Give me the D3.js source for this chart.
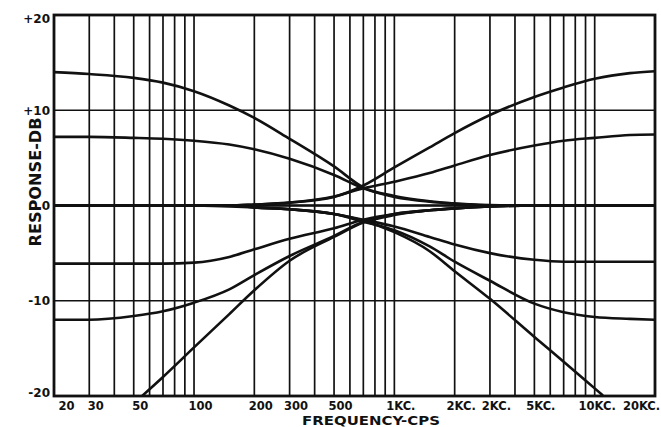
<!DOCTYPE html>
<html><head><meta charset="utf-8">
<script src="https://cdn.jsdelivr.net/npm/d3@7"></script>
<style>body{margin:0;background:#fff}svg{display:block}</style>
</head><body>
<svg id="chart" width="661" height="427"></svg>
<script>
// ---------- data ----------
const freqs = [20,30,50,70,100,150,200,300,500,700,1000,1500,2000,3000,5000,7000,10000,15000,20000];
const flatResponse  = [0,0,0,0,0,0,0,0,0,0,0,0,0,0,0,0,0,0,0];
const bassBoostMax  = [14.0,13.8,13.4,12.9,12.0,10.5,9.2,7.0,4.1,1.9,1.0,0.45,0.2,0.05,0,0,0,0,0];
const bassBoostHalf = [7.2,7.2,7.1,7.0,6.8,6.4,5.9,4.9,3.2,1.8,0.9,0.4,0.2,0,0,0,0,0,0];
const bassCutHalf   = [-6.1,-6.1,-6.1,-6.1,-6.0,-5.4,-4.6,-3.5,-2.4,-1.5,-0.9,-0.5,-0.3,-0.1,0,0,0,0,0];
const bassCutMax    = [-12.0,-12.0,-11.6,-11.1,-10.2,-8.8,-7.3,-5.3,-3.2,-1.7,-0.9,-0.5,-0.3,-0.1,0,0,0,0,0];
const trebleBoostMax  = [0,0,0,0,0,0,0.1,0.3,0.9,2.1,4.0,6.1,7.6,9.5,11.4,12.4,13.3,13.9,14.1];
const trebleBoostHalf = [0,0,0,0,0,0,0.1,0.3,0.95,1.8,2.5,3.4,4.2,5.3,6.3,6.8,7.1,7.4,7.45];
const trebleCutHalf   = [0,0,0,0,0,0,-0.2,-0.4,-0.9,-1.5,-2.2,-3.3,-4.1,-5.0,-5.7,-5.9,-5.9,-5.9,-5.9];
const trebleCutMax    = [0,0,0,0,0,0,-0.2,-0.4,-0.9,-1.7,-2.6,-4.3,-5.9,-7.9,-10.3,-11.2,-11.7,-11.9,-12.0];
const bassRolloffFreqs   = [55,70,100,150,200,300,500,700,1000,1500,2000,3000,5000];
const bassRolloff        = [-20,-18.0,-14.9,-11.4,-8.9,-5.8,-3.3,-1.8,-1.0,-0.5,-0.3,-0.1,0];
const trebleRolloffFreqs = [100,200,300,500,700,1000,1500,2000,3000,5000,7000,10000,11000];
const trebleRolloff      = [0,-0.2,-0.4,-0.9,-1.6,-2.8,-4.8,-6.9,-9.8,-13.8,-16.4,-19.2,-19.95];

const gridFreqs = [30,40,50,60,70,80,90,100,200,300,400,500,600,700,800,900,1000,2000,3000,4000,5000,6000,7000,8000,9000,10000];
const gridDb = [-10,0,10];
const xTickFreqs  = [20,30,50,100,200,300,500,1000,2000,3000,5000,10000,20000];
const xTickLabels = ["20","30","50","100","200","300","500","1KC.","2KC.","2KC.","5KC.","10KC.","20KC."];
const yTicks      = [20,10,0,-10,-20];
const yTickLabels = ["+20","+10","0","-10","-20"];

// ---------- drawing ----------
const svg = d3.select("#chart");
const L = 54, R = 655, T = 15, B = 396;
const x = d3.scaleLog().domain([20,20000]).range([L,R]);
const y = d3.scaleLinear().domain([-20,20]).range([B,T]);
const ink = "#111";
const font = "'DejaVu Sans', sans-serif";

svg.append("rect").attr("width",661).attr("height",427).attr("fill","#fff");
svg.append("clipPath").attr("id","plot").append("rect")
  .attr("x",L).attr("y",T).attr("width",R-L).attr("height",B-T);

// grid
svg.append("g").selectAll("line").data(gridFreqs).join("line")
  .attr("x1",d=>x(d)).attr("x2",d=>x(d)).attr("y1",T).attr("y2",B)
  .attr("stroke",ink).attr("stroke-width",1.7);
svg.append("g").selectAll("line").data(gridDb).join("line")
  .attr("x1",L).attr("x2",R).attr("y1",d=>y(d)).attr("y2",d=>y(d))
  .attr("stroke",ink).attr("stroke-width",1.6);

// curves
const series = [
  [freqs, flatResponse],[freqs, bassBoostMax],[freqs, bassBoostHalf],[freqs, bassCutHalf],[freqs, bassCutMax],
  [freqs, trebleBoostMax],[freqs, trebleBoostHalf],[freqs, trebleCutHalf],[freqs, trebleCutMax],
  [bassRolloffFreqs, bassRolloff],[trebleRolloffFreqs, trebleRolloff]
];
const line = d3.line().x(d=>x(d[0])).y(d=>y(d[1])).curve(d3.curveMonotoneX);
svg.append("g").attr("clip-path","url(#plot)").selectAll("path").data(series).join("path")
  .attr("d",s=>line(s[0].map((f,i)=>[f,s[1][i]])))
  .attr("fill","none").attr("stroke",ink).attr("stroke-width",2.6)
  .attr("stroke-linejoin","round");

// frame
svg.append("rect").attr("x",L).attr("y",T).attr("width",R-L).attr("height",B-T)
  .attr("fill","none").attr("stroke",ink).attr("stroke-width",2.8);

// axes
const xAxis = svg.append("g").attr("transform",`translate(0,${B})`)
  .call(d3.axisBottom(x).tickValues(xTickFreqs).tickFormat((d,i)=>xTickLabels[i]).tickSize(0).tickPadding(0));
xAxis.select(".domain").remove();
xAxis.selectAll("text")
  .attr("y",13.5).attr("dy",0)
  .attr("dx",(d,i)=> i===0 ? 12 : (i===xTickFreqs.length-1 ? -14 : (d===10000 ? 2 : 6)))
  .attr("font-family",font).attr("font-weight","bold")
  .attr("font-size",11.5).attr("fill",ink);

const yAxis = svg.append("g").attr("transform",`translate(${L},0)`)
  .call(d3.axisLeft(y).tickValues(yTicks).tickFormat((d,i)=>yTickLabels[i]).tickSize(0).tickPadding(4));
yAxis.select(".domain").remove();
yAxis.selectAll("text")
  .attr("dy",(d)=> d===20 ? "0.65em" : (d===-20 ? "0.05em" : "0.35em"))
  .attr("font-family",font).attr("font-weight","bold")
  .attr("font-size",12).attr("fill",ink);

// titles
svg.append("text").attr("x",371).attr("y",425).attr("text-anchor","middle")
  .attr("font-family",font).attr("font-weight","bold")
  .attr("font-size",13).attr("fill",ink)
  .attr("textLength",138).attr("lengthAdjust","spacingAndGlyphs")
  .text("FREQUENCY-CPS");
svg.append("text").attr("transform","translate(41,182) rotate(-90)").attr("text-anchor","middle")
  .attr("font-family",font).attr("font-weight","bold")
  .attr("font-size",16).attr("fill",ink)
  .attr("textLength",129).attr("lengthAdjust","spacingAndGlyphs")
  .text("RESPONSE-DB");
</script>
</body></html>
